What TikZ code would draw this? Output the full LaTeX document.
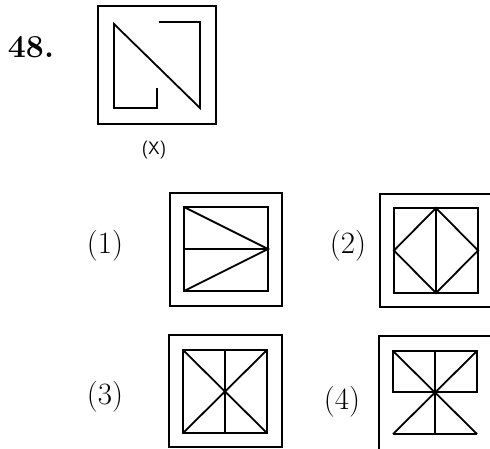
\documentclass[tikz,border=0pt]{standalone}
\begin{document}
\begin{tikzpicture}[x=1pt,y=-1pt,
    frame/.style={line width=2.2pt},
    fig/.style={line width=1.8pt},
    optlabel/.style={font=\fontsize{31}{31}\selectfont}]
  \useasboundingbox (0,0) rectangle (490,448);
  \clip (0,0) rectangle (490,448);
  \node[font=\fontsize{32}{32}\selectfont\bfseries] (num) at (31,47) {48.};
  % question figure
  \draw[frame] (98,6) rectangle (216,124);
  \draw[fig] (157,88) -- (157,108) -- (114,108) -- (114,24) -- (200,108) -- (200,22) -- (159,22);
  \node[font=\sffamily\fontsize{18}{18}\selectfont] (qx) at (154,150) {(X)};
  % answer figures
  \foreach \n/\x/\y in {1/105/246,2/348/246,3/105/397,4/342/402} {
    \node[optlabel] (opt\n) at (\x,\y) {(\n)};
  }
  % (1)
  \draw[frame] (170,193) rectangle (282,306);
  \draw[fig] (184,207) rectangle (268,291);
  \draw[fig] (184,249) -- (268,249) (184,207) -- (268,249) -- (184,291);
  % (2)
  \draw[frame] (380,194) rectangle (494,307);
  \draw[fig] (394,208) rectangle (478,293);
  \draw[fig] (436,208) -- (478,250.5) -- (436,293) -- (394,250.5) -- cycle (436,208) -- (436,293);
  % (3)
  \draw[frame] (169,335) rectangle (282,447);
  \draw[fig] (183,350) rectangle (267,433);
  \draw[fig] (183,350) -- (267,433) (267,350) -- (183,433) (225,350) -- (225,433);
  % (4)
  \draw[frame] (379,336) rectangle (494,452);
  \draw[fig] (393,351) rectangle (477,392);
  \draw[fig] (393,434) -- (477,434) (435,351) -- (435,434)
    (393,351) -- (477,434) (477,351) -- (393,434);
\end{tikzpicture}
\end{document}
